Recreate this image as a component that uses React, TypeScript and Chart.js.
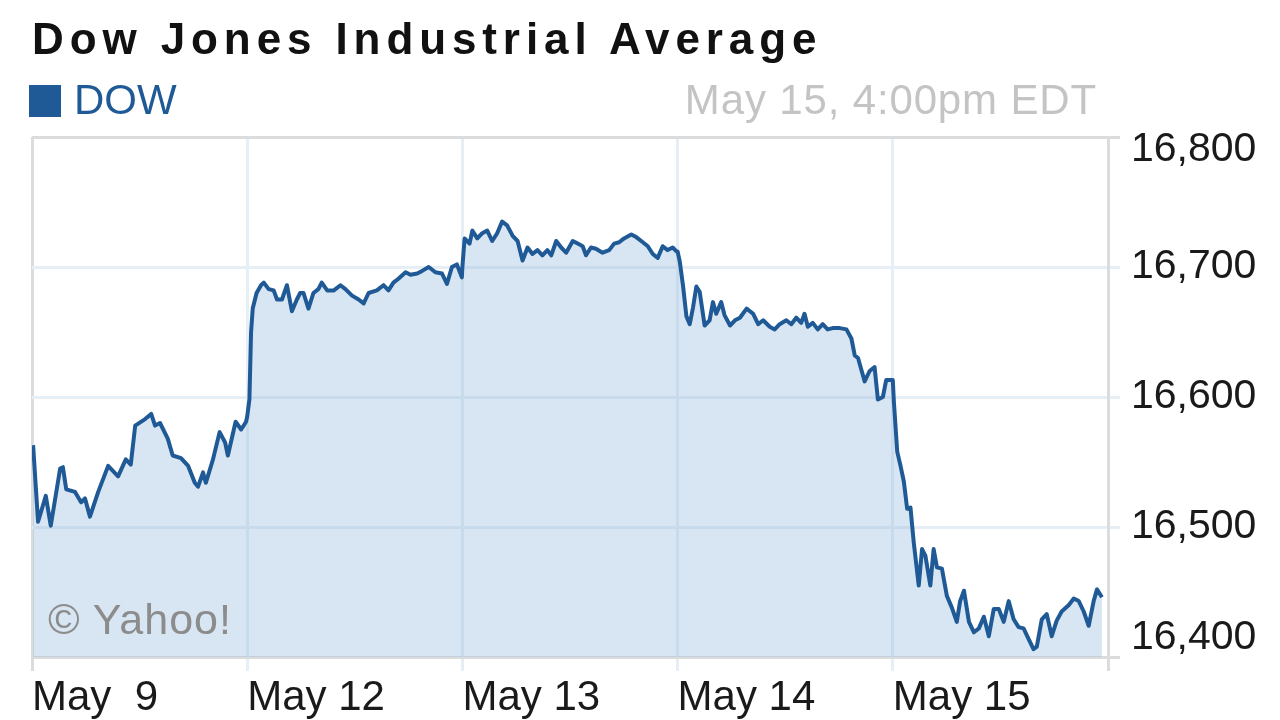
import React, { useEffect, useRef } from 'react';
import { Chart, registerables } from 'chart.js';

Chart.register(...registerables);

// Day labels on the x axis (one trading day per unit)
const dayLabels = ['May  9', 'May 12', 'May 13', 'May 14', 'May 15'];
const yMin = 16400;
const yMax = 16800;
const yStep = 100;
const tradingMinutes = 390; // 9:30am - 4:00pm

// [minutes since open, index level]
const may9: [number, number][] = [
  [2, 16563], [11, 16504], [25, 16524], [34, 16501], [51, 16545], [56, 16546], [62, 16529],
  [78, 16527], [89, 16519], [96, 16522], [105, 16508], [120, 16527], [138, 16547], [156, 16539],
  [170, 16552], [179, 16548], [187, 16578], [205, 16583], [216, 16587], [223, 16578], [232, 16580],
  [246, 16568], [255, 16555], [270, 16553], [283, 16547], [295, 16534], [301, 16531], [310, 16542],
  [315, 16534], [328, 16552], [340, 16573], [350, 16565], [355, 16555], [369, 16581], [379, 16575],
  [388, 16581],
];

const may12: [number, number][] = [
  [0, 16585], [4, 16598], [7, 16650], [10, 16668], [17, 16680], [25, 16686], [30, 16688],
  [39, 16683], [48, 16682], [54, 16675], [63, 16675], [72, 16686], [81, 16666], [90, 16675],
  [96, 16680], [102, 16680], [111, 16668], [120, 16680], [129, 16683], [135, 16688], [145, 16682],
  [157, 16682], [169, 16686], [178, 16683], [190, 16678], [202, 16675], [211, 16672], [220, 16680],
  [235, 16682], [247, 16686], [256, 16682], [265, 16688], [274, 16691], [287, 16696], [296, 16694],
  [308, 16695], [317, 16697], [329, 16700], [341, 16696], [353, 16695], [362, 16687], [371, 16700],
  [380, 16702], [389, 16692],
];

const may13: [number, number][] = [
  [0, 16700], [4, 16722], [13, 16718], [18, 16728], [27, 16722], [36, 16726], [45, 16728],
  [54, 16720], [63, 16726], [72, 16735], [81, 16732], [91, 16724], [100, 16720], [109, 16705],
  [118, 16715], [127, 16710], [136, 16713], [145, 16709], [154, 16713], [161, 16709], [170, 16720],
  [179, 16715], [188, 16711], [200, 16720], [209, 16718], [218, 16716], [224, 16709], [233, 16715],
  [242, 16714], [254, 16711], [266, 16713], [275, 16718], [284, 16719], [293, 16722], [306, 16725],
  [315, 16723], [327, 16719], [336, 16716], [345, 16710], [354, 16707], [363, 16716], [372, 16713],
  [381, 16715], [388, 16712],
];

const may14: [number, number][] = [
  [0, 16712], [4, 16704], [10, 16685], [16, 16662], [22, 16656], [28, 16669], [34, 16685],
  [40, 16681], [49, 16655], [58, 16659], [64, 16673], [70, 16664], [79, 16673], [85, 16663],
  [95, 16655], [104, 16659], [113, 16661], [125, 16668], [137, 16664], [146, 16656], [155, 16659],
  [167, 16654], [176, 16652], [185, 16656], [197, 16659], [206, 16656], [215, 16661], [224, 16657],
  [230, 16664], [236, 16654], [245, 16657], [254, 16652], [263, 16656], [272, 16652], [281, 16653],
  [294, 16653], [306, 16652], [315, 16645], [321, 16632], [327, 16630], [333, 16621], [339, 16612],
  [348, 16620], [357, 16623], [363, 16598], [372, 16600], [378, 16613], [387, 16613],
];

const may15: [number, number][] = [
  [0, 16613], [2, 16596], [8, 16558], [14, 16547], [20, 16535], [26, 16514], [32, 16515],
  [38, 16488], [47, 16455], [53, 16483], [59, 16478], [68, 16455], [74, 16483], [80, 16469],
  [89, 16468], [98, 16447], [107, 16438], [116, 16427], [122, 16443], [129, 16451], [138, 16427],
  [147, 16419], [156, 16422], [165, 16431], [174, 16416], [183, 16437], [192, 16437], [201, 16427],
  [210, 16443], [219, 16429], [228, 16423], [237, 16422], [246, 16414], [255, 16406], [261, 16408],
  [270, 16429], [279, 16433], [288, 16416], [297, 16428], [306, 16435], [319, 16440], [328, 16445],
  [337, 16443], [346, 16435], [355, 16424], [364, 16443], [370, 16452], [379, 16446],
];

const days = [may9, may12, may13, may14, may15];

const FONT = "'Liberation Sans', Arial, Helvetica, sans-serif";
const NARROW_FONT = "'Liberation Sans Narrow', 'Arial Narrow', 'Liberation Sans', Arial, sans-serif";
const LINE_COLOR = '#1f5a96';
const FILL_COLOR = 'rgba(150, 190, 222, 0.38)';
const GRID_COLOR = '#e6eef6';
const FRAME_COLOR = '#dcdcdc';
const LABEL_COLOR = '#1a1a1a';

const fmt = (v: number) => Number(v).toLocaleString('en-US');

// Right-hand value labels, kept inside the plot's vertical extent as in the original
const yLabelPlugin = {
  id: 'yLabelsInside',
  afterDraw(chart: any) {
    const s = chart.scales.y;
    const area = chart.chartArea;
    const ctx = chart.ctx;
    ctx.save();
    ctx.font = `41px ${NARROW_FONT}`;
    ctx.fillStyle = LABEL_COLOR;
    ctx.textAlign = 'left';
    ctx.textBaseline = 'middle';
    s.ticks.forEach((t: any) => {
      let y = s.getPixelForValue(t.value);
      y = Math.min(Math.max(y, area.top + 13), area.bottom - 19);
      ctx.fillText(fmt(t.value), area.right + 23, y);
    });
    ctx.restore();
  },
};

export default function App() {
  const canvasRef = useRef<HTMLCanvasElement | null>(null);

  useEffect(() => {
    if (!canvasRef.current) return;
    const points = days.flatMap((d, i) =>
      d.map(([t, v]) => ({ x: i + t / tradingMinutes, y: v }))
    );
    const chart = new Chart(canvasRef.current, {
      type: 'line',
      data: {
        datasets: [
          {
            label: 'DOW',
            data: points,
            borderColor: LINE_COLOR,
            backgroundColor: FILL_COLOR,
            borderWidth: 4,
            fill: 'start',
            pointRadius: 0,
            tension: 0,
            borderJoinStyle: 'round',
          },
        ],
      },
      options: {
        animation: false,
        responsive: false,
        devicePixelRatio: 1,
        layout: { padding: { left: 32, top: 137, right: 0, bottom: 0 } },
        plugins: {
          legend: { display: false },
          title: { display: false },
          tooltip: { enabled: false },
        },
        scales: {
          x: {
            type: 'linear',
            min: 0,
            max: days.length,
            afterFit: (s: any) => {
              s.height = 63;
            },
            ticks: {
              stepSize: 1,
              autoSkip: false,
              maxRotation: 0,
              align: 'start',
              padding: 2,
              color: LABEL_COLOR,
              font: { family: FONT, size: 42 },
              callback: (v: any) => dayLabels[v as number] ?? '',
            },
            grid: {
              lineWidth: 3,
              tickLength: 14,
              color: (ctx: any) =>
                ctx.tick && (ctx.tick.value === 0 || ctx.tick.value === days.length)
                  ? FRAME_COLOR
                  : GRID_COLOR,
            },
            border: { display: true, color: FRAME_COLOR, width: 3 },
          },
          y: {
            type: 'linear',
            position: 'right',
            min: yMin,
            max: yMax,
            afterFit: (s: any) => {
              s.width = 172;
            },
            ticks: {
              stepSize: yStep,
              display: false,
              callback: (v: any) => fmt(v),
            },
            grid: {
              lineWidth: 3,
              tickLength: 12,
              color: (ctx: any) =>
                ctx.tick && (ctx.tick.value === yMin || ctx.tick.value === yMax)
                  ? FRAME_COLOR
                  : GRID_COLOR,
            },
            border: { display: true, color: FRAME_COLOR, width: 3 },
          },
        },
      },
      plugins: [yLabelPlugin],
    });
    return () => chart.destroy();
  }, []);

  return (
    <div
      style={{
        position: 'absolute',
        left: 0,
        top: 0,
        width: 1280,
        height: 720,
        background: '#ffffff',
        overflow: 'hidden',
        fontFamily: FONT,
      }}
    >
      <canvas ref={canvasRef} width={1280} height={720} style={{ position: 'absolute', left: 0, top: 0 }} />
      <div
        style={{
          position: 'absolute',
          left: 32,
          top: 17,
          fontSize: 44,
          lineHeight: '44px',
          fontWeight: 'bold',
          letterSpacing: '5.9px',
          color: '#111',
          whiteSpace: 'nowrap',
        }}
      >
        Dow Jones Industrial Average
      </div>
      <div
        style={{
          position: 'absolute',
          left: 29,
          top: 85,
          width: 32,
          height: 32,
          background: LINE_COLOR,
        }}
      />
      <div
        style={{
          position: 'absolute',
          left: 74,
          top: 79,
          fontSize: 42,
          lineHeight: '42px',
          color: LINE_COLOR,
          whiteSpace: 'nowrap',
        }}
      >
        DOW
      </div>
      <div
        style={{
          position: 'absolute',
          right: 1280 - 1097,
          top: 79,
          fontSize: 42,
          lineHeight: '42px',
          letterSpacing: '0.85px',
          color: '#c4c4c4',
          whiteSpace: 'nowrap',
        }}
      >
        May 15, 4:00pm EDT
      </div>
      <div
        style={{
          position: 'absolute',
          left: 48,
          top: 598,
          fontSize: 43,
          lineHeight: '43px',
          letterSpacing: '1px',
          color: '#8c8c8c',
          whiteSpace: 'nowrap',
        }}
      >
        © Yahoo!
      </div>
    </div>
  );
}
